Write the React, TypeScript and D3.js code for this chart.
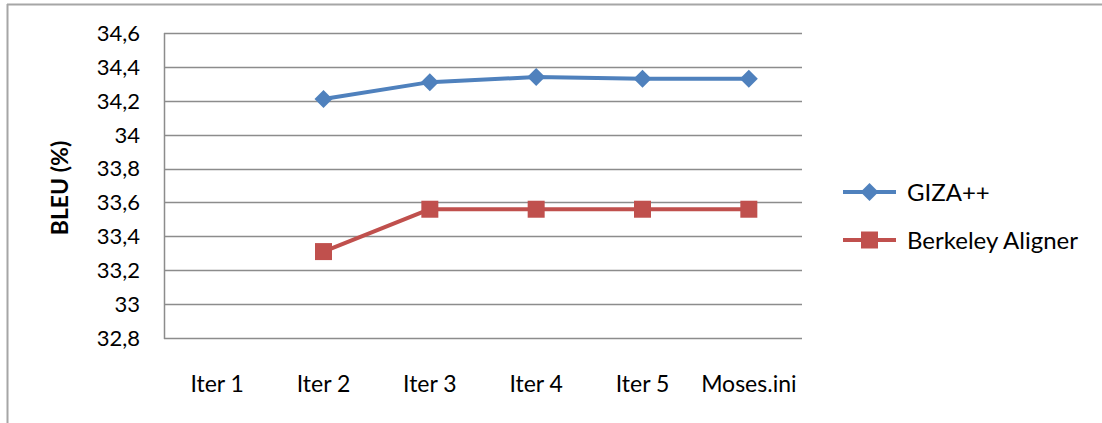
import React, { useEffect, useRef } from 'react';
import * as d3 from 'd3';

const categories = ['Iter 1', 'Iter 2', 'Iter 3', 'Iter 4', 'Iter 5', 'Moses.ini'];
const gizaValues: (number | null)[] = [null, 34.21, 34.31, 34.34, 34.33, 34.33];
const berkeleyValues: (number | null)[] = [null, 33.31, 33.56, 33.56, 33.56, 33.56];
const yTicks = [32.8, 33, 33.2, 33.4, 33.6, 33.8, 34, 34.2, 34.4, 34.6];

const series = [
  { name: 'GIZA++', values: gizaValues, color: '#4F81BD', marker: 'diamond' },
  { name: 'Berkeley Aligner', values: berkeleyValues, color: '#C0504D', marker: 'square' },
];

const App: React.FC = () => {
  const svgRef = useRef<SVGSVGElement>(null);

  useEffect(() => {
    if (!svgRef.current) return;
    const width = 1102;
    const height = 423;
    const plot = { left: 164, right: 802, top: 33, bottom: 338 };
    const font = 'Lato, "Open Sans", sans-serif';

    const svg = d3.select(svgRef.current)
      .attr('width', width)
      .attr('height', height)
      .html('');

    svg.append('rect').attr('width', width).attr('height', height).attr('fill', '#fff');

    // outer chart frame (only top and left visible)
    svg.append('line').attr('x1', 7).attr('x2', width).attr('y1', 4.5).attr('y2', 4.5)
      .attr('stroke', '#a6a6a6').attr('stroke-width', 2);
    svg.append('line').attr('x1', 7.5).attr('x2', 7.5).attr('y1', 4).attr('y2', height)
      .attr('stroke', '#a6a6a6').attr('stroke-width', 2);

    const x = d3.scaleBand().domain(categories).range([plot.left, plot.right]);
    const y = d3.scaleLinear().domain([32.8, 34.6]).range([plot.bottom, plot.top]);
    const fmt = (v: number) => d3.format('~g')(+v.toFixed(1)).replace('.', ',');

    // gridlines
    svg.append('g').selectAll('line')
      .data(yTicks)
      .enter().append('line')
      .attr('x1', plot.left).attr('x2', plot.right)
      .attr('y1', d => Math.round(y(d)) + 0.5).attr('y2', d => Math.round(y(d)) + 0.5)
      .attr('stroke', '#8c8c8c').attr('stroke-width', 1.5);

    // y axis line
    svg.append('line').attr('x1', plot.left + 0.5).attr('x2', plot.left + 0.5)
      .attr('y1', plot.top).attr('y2', plot.bottom + 1)
      .attr('stroke', '#8c8c8c').attr('stroke-width', 1.5);

    // y tick labels
    svg.append('g').selectAll('text')
      .data(yTicks)
      .enter().append('text')
      .attr('x', 140).attr('y', d => y(d))
      .attr('dy', '0.36em')
      .attr('text-anchor', 'end')
      .style('font-family', font).style('font-size', '22px').style('fill', '#000')
      .text(d => fmt(d));

    // x labels
    svg.append('g').selectAll('text')
      .data(categories)
      .enter().append('text')
      .attr('x', d => (x(d) ?? 0) + x.bandwidth() / 2)
      .attr('y', 392)
      .attr('text-anchor', 'middle')
      .style('font-family', font).style('font-size', '23px').style('fill', '#000')
      .text(d => d);

    // y title
    svg.append('text')
      .attr('transform', 'translate(68,188) rotate(-90)')
      .attr('text-anchor', 'middle')
      .style('font-family', font).style('font-size', '23px').style('font-weight', 'bold')
      .text('BLEU (%)');

    const diamond = (s: number) => `M0,${-s}L${s},0L0,${s}L${-s},0Z`;
    const square = (s: number) => `M${-s},${-s}H${s}V${s}H${-s}Z`;
    const markerPath = (m: string) => (m === 'diamond' ? diamond(9) : square(8.5));

    series.forEach(s => {
      const pts = categories
        .map((c, i) => ({ c, v: s.values[i] }))
        .filter(p => p.v !== null) as { c: string; v: number }[];
      const line = d3.line<{ c: string; v: number }>()
        .x(p => (x(p.c) ?? 0) + x.bandwidth() / 2)
        .y(p => y(p.v));
      svg.append('path').datum(pts).attr('d', line)
        .attr('fill', 'none').attr('stroke', s.color).attr('stroke-width', 4)
        .attr('stroke-linejoin', 'round');
      svg.append('g').selectAll('path')
        .data(pts)
        .enter().append('path')
        .attr('transform', p => `translate(${(x(p.c) ?? 0) + x.bandwidth() / 2},${y(p.v)})`)
        .attr('d', markerPath(s.marker))
        .attr('fill', s.color);
    });

    // legend
    const legend = svg.append('g');
    series.forEach((s, i) => {
      const ly = 192 + i * 48;
      legend.append('line').attr('x1', 843).attr('x2', 896).attr('y1', ly).attr('y2', ly)
        .attr('stroke', s.color).attr('stroke-width', 4);
      legend.append('path').attr('transform', `translate(869.5,${ly})`)
        .attr('d', markerPath(s.marker)).attr('fill', s.color);
      legend.append('text').attr('x', 907).attr('y', ly).attr('dy', '0.36em')
        .style('font-family', font).style('font-size', '24px').style('fill', '#000')
        .text(s.name);
    });
  }, []);

  return (
    <div style={{ position: 'absolute', left: 0, top: 0 }}>
      <svg ref={svgRef}></svg>
    </div>
  );
};

export default App;
